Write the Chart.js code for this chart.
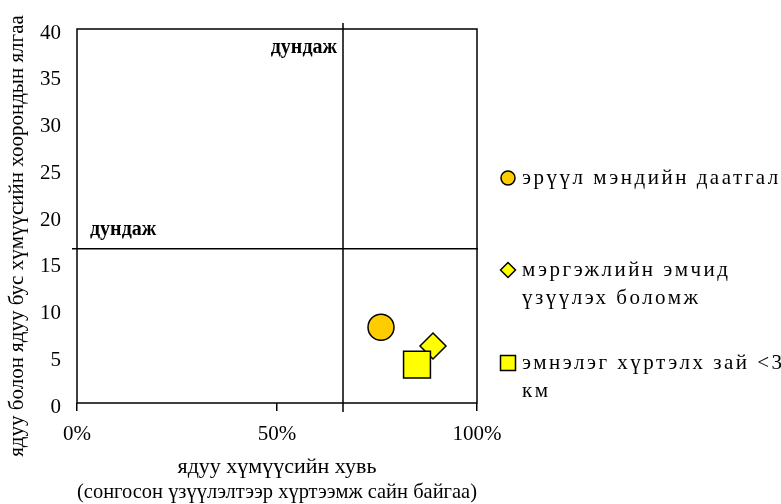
<!DOCTYPE html>
<html>
<head>
<meta charset="utf-8">
<script src="https://cdn.jsdelivr.net/npm/chart.js@4"></script>
<style>
  html, body { margin: 0; padding: 0; background: #fff; }
  #wrap { width: 781px; height: 504px; }
</style>
</head>
<body>
<div id="wrap"><canvas id="quadChart"></canvas></div>
<script>
// data
const seriesNames = ['эрүүл мэндийн даатгал', 'мэргэжлийн эмчид\nүзүүлэх боломж', 'эмнэлэг хүртэлх зай <3\nкм'];
const poorShare = [0.76, 0.89, 0.85];      // x: share of poor with good access
const gapValues = [8.1, 6.1, 4.1];         // y: gap between poor and non-poor
const avgX = 0.665;                        // "дундаж" vertical line
const avgY = 16.5;                         // "дундаж" horizontal line
const yTicks = [0, 5, 10, 15, 20, 25, 30, 35, 40];
const xTicks = [0, 0.5, 1];
const yTitle = 'ядуу болон ядуу бус хүмүүсийн хоорондын ялгаа';

const FONT = "'Liberation Serif', 'Times New Roman', serif";
const fills = ['#FFCC00', '#FFFF00', '#FFFF00'];
const shapes = ['circle', 'rectRot', 'rect'];
const sizes = [13, 13, 19];

const datasets = seriesNames.map((name, i) => ({
    label: name.replace('\n', ' '),
    data: [{ x: poorShare[i], y: gapValues[i] }],
    pointStyle: shapes[i],
    pointRadius: sizes[i],
    pointHoverRadius: sizes[i],
    backgroundColor: fills[i],
    borderColor: '#000',
    borderWidth: 1.5,
    order: 2 - i
}));

// box, average lines and their labels, rotated y title
const quadrants = {
    id: 'quadrants',
    afterDatasetsDraw(chart) {
        const { ctx, chartArea: a, scales: { x, y } } = chart;
        const px = x.getPixelForValue(avgX);
        const py = y.getPixelForValue(avgY);
        ctx.save();
        ctx.strokeStyle = '#000';
        ctx.lineWidth = 1.5;
        ctx.strokeRect(a.left, a.top, a.right - a.left, a.bottom - a.top);
        ctx.beginPath();
        ctx.moveTo(px, a.top - 6);
        ctx.lineTo(px, a.bottom + 9);
        ctx.moveTo(a.left - 5, py);
        ctx.lineTo(a.right + 1, py);
        ctx.stroke();
        ctx.fillStyle = '#000';
        ctx.font = 'bold 20px ' + FONT;
        ctx.textBaseline = 'middle';
        ctx.textAlign = 'right';
        ctx.fillText('дундаж', px - 6, a.top + 19);
        ctx.textAlign = 'left';
        ctx.fillText('дундаж', a.left + 13, py - 19);

        ctx.translate(17, 236);
        ctx.rotate(-Math.PI / 2);
        ctx.font = '21px ' + FONT;
        ctx.textAlign = 'center';
        ctx.fillText(yTitle, 0, 0);
        ctx.restore();
    }
};

// legend on the right with wrapped labels
const sideLegend = {
    id: 'sideLegend',
    afterDraw(chart) {
        const { ctx } = chart;
        const rows = [178, 270, 363];
        ctx.save();
        ctx.font = '21px ' + FONT;
        ctx.letterSpacing = '2.5px';
        ctx.textBaseline = 'middle';
        ctx.textAlign = 'left';
        seriesNames.forEach((name, i) => {
            const cx = 508, cy = rows[i];
            ctx.beginPath();
            if (shapes[i] === 'circle') {
                ctx.arc(cx, cy, 7, 0, Math.PI * 2);
            } else if (shapes[i] === 'rectRot') {
                ctx.moveTo(cx - 7.5, cy); ctx.lineTo(cx, cy - 7.5);
                ctx.lineTo(cx + 7.5, cy); ctx.lineTo(cx, cy + 7.5);
                ctx.closePath();
            } else {
                ctx.rect(cx - 7.5, cy - 7.5, 15, 15);
            }
            ctx.fillStyle = fills[i];
            ctx.fill();
            ctx.lineWidth = 1.5;
            ctx.strokeStyle = '#000';
            ctx.stroke();
            ctx.fillStyle = '#000';
            name.split('\n').forEach((line, j) => {
                ctx.fillText(line, 522, cy + j * 28);
            });
        });
        ctx.restore();
    }
};

new Chart(document.getElementById('quadChart'), {
    type: 'scatter',
    data: { datasets },
    options: {
        responsive: true,
        maintainAspectRatio: false,
        animation: false,
        layout: { padding: { left: 0, top: 29, right: 304, bottom: 0 } },
        plugins: { legend: { display: false }, tooltip: { enabled: false } },
        scales: {
            x: {
                type: 'linear',
                min: 0,
                max: 1,
                afterFit(scale) { scale.height = 101; },
                afterBuildTicks(scale) { scale.ticks = xTicks.map(v => ({ value: v })); },
                grid: { display: true, drawOnChartArea: false, tickLength: 8, color: '#000', lineWidth: 1.5 },
                border: { display: false },
                ticks: {
                    color: '#000',
                    padding: 11,
                    maxRotation: 0,
                    font: { family: FONT, size: 21 },
                    callback: v => Math.round(v * 100) + '%'
                },
                title: {
                    display: true,
                    text: ['ядуу хүмүүсийн хувь', '(сонгосон үзүүлэлтээр хүртээмж сайн байгаа)'],
                    color: '#000',
                    font: { family: FONT, size: 22, lineHeight: 1.1 },
                    padding: { top: 0, bottom: 0 }
                }
            },
            y: {
                type: 'linear',
                min: 0,
                max: 40,
                afterFit(scale) { scale.width = 77; },
                afterBuildTicks(scale) { scale.ticks = yTicks.map(v => ({ value: v })); },
                grid: { display: false, drawTicks: false },
                border: { display: false },
                ticks: {
                    color: '#000',
                    padding: 16,
                    labelOffset: 4,
                    font: { family: FONT, size: 21 }
                }
            }
        }
    },
    plugins: [quadrants, sideLegend]
});
</script>
</body>
</html>
